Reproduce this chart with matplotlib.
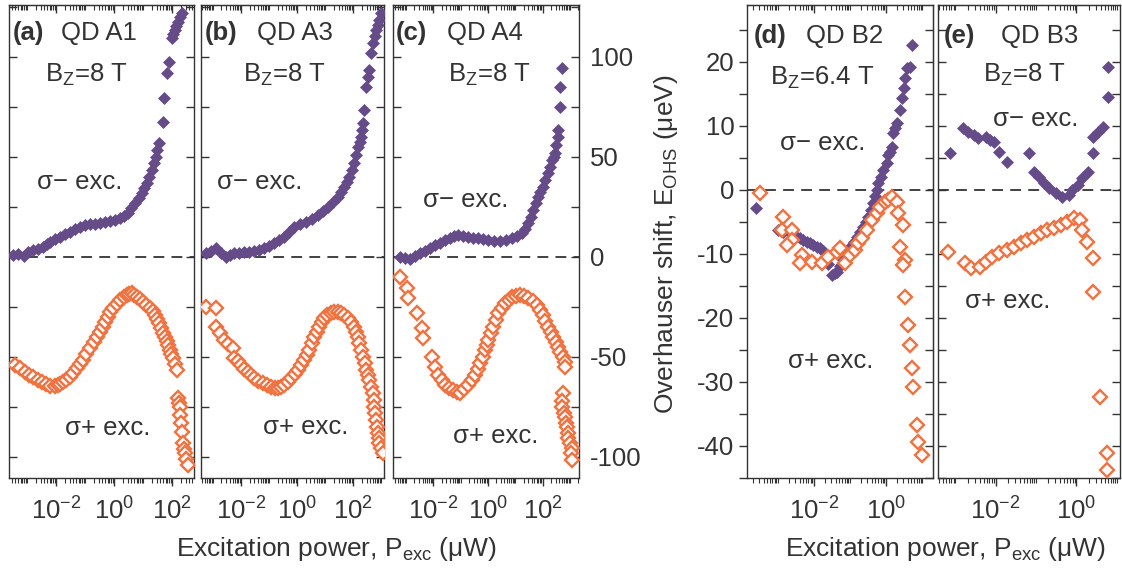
import numpy as np
import matplotlib
matplotlib.use('Agg')
import matplotlib.pyplot as plt
from matplotlib.ticker import FixedLocator, MultipleLocator, FuncFormatter, NullFormatter

plt.rcParams['font.family'] = ['Liberation Sans', 'DejaVu Sans']
plt.rcParams['mathtext.fontset'] = 'custom'
plt.rcParams['mathtext.rm'] = 'Liberation Sans'
plt.rcParams['mathtext.it'] = 'Liberation Sans:italic'
plt.rcParams['mathtext.bf'] = 'Liberation Sans:bold'
plt.rcParams['axes.unicode_minus'] = False

# data: log10(P_exc / uW) and E_OHS (ueV)
a_minus_logp = [-3.48, -3.3, -3.1, -2.95, -2.79, -2.62, -2.45, -2.32, -2.2, -2.03, -1.86, -1.68,
                -1.5, -1.33, -1.17, -1.0, -0.83, -0.65, -0.48, -0.3, -0.14, 0.03, 0.2, 0.35,
                0.48, 0.6, 0.72, 0.85, 0.97, 1.05, 1.13, 1.22, 1.3, 1.38, 1.45, 1.5, 1.55,
                1.69, 1.72, 1.83, 1.9, 2.0, 2.05, 2.1, 2.15, 2.2, 2.27, 2.34]
a_minus_e = [1, 1.5, 0.5, 2.5, 3.5, 4, 5, 6.5, 7.5, 9, 10, 11.5,
             12.5, 14, 15, 16, 16.5, 16.5, 17, 17.5, 18, 18.5, 19.5, 20.5,
             22, 24.5, 27, 29.5, 32, 34.5, 37, 40, 43.5, 47, 50, 53.5, 57,
             67.5, 79.5, 92, 97.5, 109.5, 111.5, 113.5, 115.5, 117.5, 120, 122]
a_plus_logp = [-3.41, -3.25, -3.07, -2.93, -2.79, -2.63, -2.48, -2.33, -2.2, -2.05, -1.93, -1.85,
               -1.76, -1.64, -1.52, -1.4, -1.28, -1.17, -1.07, -0.95, -0.83, -0.7, -0.59, -0.48,
               -0.38, -0.3, -0.21, -0.12, -0.03, 0.1, 0.21, 0.33, 0.45, 0.53, 0.62, 0.7,
               0.79, 0.9, 1.0, 1.12, 1.24, 1.33, 1.41, 1.48, 1.55, 1.62, 1.69, 1.76,
               1.83, 1.88, 1.93, 1.98, 2.03, 2.1, 2.17, 2.2, 2.25, 2.28, 2.28, 2.3,
               2.34, 2.38, 2.42, 2.45, 2.5, 2.55]
a_plus_e = [-54, -55.5, -57.5, -59, -60, -61.5, -62.5, -63.5, -64.5, -64.5, -64, -63.5,
            -62.5, -61.5, -60, -58, -55.5, -53.5, -51.5, -48.5, -45.5, -42.5, -40, -37.5,
            -35, -32.5, -30, -27.5, -25.5, -23.5, -21.5, -20, -19, -18.5, -18, -19,
            -20, -21, -22.5, -24, -25.5, -27, -29, -31, -33, -35.5, -38, -40,
            -42, -44, -46.5, -48.5, -50.5, -53.5, -56.5, -70.5, -73, -75, -79, -83,
            -87.5, -93, -96, -98, -101, -104]

b_minus_logp = [-3.25, -3.07, -2.89, -2.72, -2.54, -2.4, -2.25, -2.07, -1.89, -1.72, -1.54, -1.36,
                -1.18, -1.0, -0.82, -0.64, -0.46, -0.28, -0.11, 0.1, 0.32, 0.53, 0.75, 0.93,
                1.1, 1.28, 1.46, 1.57, 1.68, 1.77, 1.86, 1.95, 2.04, 2.11, 2.18, 2.24,
                2.29, 2.33, 2.36, 2.39, 2.46, 2.52, 2.57, 2.64, 2.71, 2.77, 2.82, 2.88,
                2.93, 3.0]
b_minus_e = [2, 3, 4.5, 2, 0, 1, 2, 2, 2.5, 2.5, 3, 3.5,
             4.5, 5.5, 7, 8.5, 10, 12.5, 15, 16.5, 17.5, 19, 21, 23,
             25, 27.5, 30, 32.5, 35, 37.5, 40, 43.5, 47, 51, 55, 57.5,
             60, 63.5, 67, 73.5, 85, 90, 93.5, 102, 107, 110.5, 113.5, 116,
             118.5, 122]
b_plus_logp = [-3.25, -2.89, -2.89, -2.75, -2.61, -2.45, -2.29, -2.25, -2.12, -2.0, -1.88, -1.75,
               -1.65, -1.54, -1.38, -1.21, -1.07, -0.93, -0.8, -0.68, -0.57, -0.46, -0.33, -0.21,
               -0.08, 0.04, 0.15, 0.25, 0.34, 0.43, 0.52, 0.61, 0.7, 0.79, 0.88, 0.96,
               1.08, 1.21, 1.33, 1.46, 1.57, 1.68, 1.8, 1.93, 2.02, 2.11, 2.16, 2.21,
               2.29, 2.36, 2.41, 2.46, 2.52, 2.57, 2.64, 2.71, 2.73, 2.75, 2.79, 2.82,
               2.85, 2.89, 2.91, 2.93, 3.0, 3.07]
b_plus_e = [-25, -25.5, -35, -38, -41.5, -43.5, -45.5, -50.5, -52, -54, -56, -57.5,
            -59, -60.5, -62, -63, -64, -65, -65.5, -65.5, -65, -64, -62.5, -60.5,
            -58.5, -56.5, -54, -51.5, -49, -46.5, -43, -40, -37.5, -35, -32.5, -30.5,
            -29, -28, -27.5, -27.5, -28, -29, -30.5, -32.5, -35, -37.5, -40, -43,
            -46.5, -50, -53, -56.5, -59, -61.5, -65, -68, -71.5, -75, -78, -81.5,
            -85, -88, -90.5, -93, -95.5, -98]

c_minus_logp = [-3.22, -3.04, -2.86, -2.67, -2.49, -2.3, -2.12, -1.94, -1.76, -1.57, -1.39, -1.25,
                -1.1, -0.92, -0.73, -0.55, -0.37, -0.18, 0.0, 0.22, 0.44, 0.66, 0.88, 1.07,
                1.25, 1.36, 1.47, 1.56, 1.65, 1.74, 1.83, 1.92, 2.01, 2.1, 2.2, 2.27,
                2.34, 2.4, 2.45, 2.5, 2.56, 2.56, 2.64, 2.64, 2.71]
c_minus_e = [0, -0.5, -1, 0.5, 2, 3, 4.5, 6, 7, 8.5, 9.5, 10.5,
             11, 10.5, 10, 9.5, 9.5, 9, 8.5, 8, 8, 8.5, 9.5, 10.5,
             12, 14, 17, 20, 23.5, 27, 30, 32.5, 35, 38.5, 42, 45,
             48.5, 50, 52, 56, 60, 63.5, 75, 85, 94.5]
c_plus_logp = [-3.22, -2.97, -2.93, -2.6, -2.42, -2.38, -2.05, -1.94, -1.83, -1.7, -1.58, -1.43,
               -1.28, -1.15, -1.03, -0.88, -0.73, -0.6, -0.48, -0.38, -0.29, -0.2, -0.11, -0.05,
               0.0, 0.09, 0.18, 0.28, 0.37, 0.5, 0.62, 0.75, 0.88, 1.02, 1.17, 1.32,
               1.47, 1.63, 1.79, 1.9, 2.01, 2.1, 2.2, 2.29, 2.38, 2.47, 2.56, 2.65,
               2.75, 2.8, 2.82, 2.75, 2.71, 2.71, 2.78, 2.82, 2.86, 2.89, 2.91, 2.93,
               3.0, 3.08, 3.05, 3.08]
c_plus_e = [-10, -15.5, -20.5, -28, -35.5, -40.5, -50, -55, -59, -61.5, -64, -65.5,
            -66.5, -67.5, -68, -66, -64, -61.5, -59, -56, -53, -50, -46.5, -44,
            -41.5, -38, -35, -31.5, -28, -25.5, -23, -21.5, -20, -19.5, -19, -19.5,
            -20.5, -22, -24, -26.5, -29, -32, -35, -37.5, -40, -42.5, -45, -47.5,
            -50, -52.5, -55, -68, -72, -75, -78, -80, -83, -85, -88, -90.5,
            -93, -95.5, -98, -101.5]

d_minus_logp = [-3.61, -3.0, -2.85, -2.67, -2.5, -2.39, -2.3, -2.19, -2.1, -2.03, -1.93, -1.83,
                -1.76, -1.69, -1.6, -1.5, -1.42, -1.36, -1.28, -1.19, -1.1, -1.0, -0.9, -0.81,
                -0.72, -0.64, -0.57, -0.5, -0.43, -0.36, -0.3, -0.25, -0.22, -0.15, -0.08, 0.03,
                0.06, 0.12, 0.17, 0.19, 0.25, 0.31, 0.39, 0.44, 0.5, 0.53, 0.58, 0.67, 0.72]
d_minus_e = [-2.8, -6.25, -6.5, -6.7, -7.2, -7.5, -7.8, -8.1, -8.3, -8.6, -8.9, -9.1,
             -9.5, -9.9, -11.5, -13.3, -13, -12.8, -11.9, -10.9, -9.9, -8.9, -8.1, -7.3,
             -6.5, -5.8, -5, -4.2, -3.2, -2.1, -1, 0, 1.1, 2.1, 3.1, 4.2,
             5.5, 6, 6.7, 8.9, 9.7, 10.5, 12.5, 14.4, 16, 17.5, 19, 19.2, 22.7]
d_plus_logp = [-3.5, -2.86, -2.89, -2.61, -2.61, -2.75, -2.33, -2.39, -2.06, -1.78, -1.61, -1.36,
               -1.28, -1.14, -1.0, -0.86, -0.78, -0.67, -0.53, -0.39, -0.25, -0.17, -0.03, 0.06,
               0.17, 0.31, 0.33, 0.47, 0.39, 0.53, 0.47, 0.53, 0.61, 0.67, 0.72, 0.75,
               0.86, 0.89, 1.0]
d_plus_e = [-0.4, -4.2, -6.25, -6.25, -7.8, -8.6, -10.2, -11.4, -11.2, -11.4, -10.5, -9.7,
            -9.1, -11.4, -10.2, -9.4, -8.3, -7.5, -6.25, -4.7, -3.6, -2.6, -1.9, -1.6,
            -1.1, -1.9, -3.6, -5.5, -8.9, -10.9, -11.7, -16.7, -21.1, -24.2, -27.8, -30.8,
            -36.7, -39.4, -41.4]

e_minus_logp = [-3.13, -2.8, -2.68, -2.55, -2.43, -2.25, -2.13, -2.05, -1.93, -1.73, -1.18, -1.05,
                -0.93, -0.8, -0.68, -0.5, -0.35, -0.18, -0.1, 0.03, 0.15, 0.28, 0.4, 0.4,
                0.53, 0.65, 0.78, 0.78]
e_minus_e = [5.8, 9.7, 9.1, 8.6, 8.1, 8.3, 7.8, 7.5, 5.9, 4.4, 5.8, 2.8,
             2.0, 1.1, 0.3, -0.5, -1.1, -0.8, 0, 0.8, 1.9, 2.8, 5.8, 8.3,
             9.1, 9.9, 14.5, 19.2]
e_plus_logp = [-3.18, -2.75, -2.6, -2.38, -2.23, -2.1, -1.93, -1.73, -1.55, -1.38, -1.23, -1.05,
               -0.88, -0.73, -0.55, -0.38, -0.23, -0.05, 0.08, 0.15, 0.25, 0.4, 0.4, 0.58,
               0.75, 0.75]
e_plus_e = [-9.7, -11.4, -12.2, -12.0, -11.2, -10.5, -9.8, -9.4, -8.9, -8.3, -7.8, -7.3,
            -6.7, -6.25, -5.9, -5.5, -5.0, -4.4, -4.7, -6.25, -8.1, -10.6, -16, -32.3,
            -41.1, -43.8]

purple = '#654b88'
orange = '#f07240'
ink = '#333333'
fs = 18.5

W, H = 1122, 571
fig = plt.figure(figsize=(W / 100, H / 100), dpi=100)


def px_axes(l, r, t, b):
    return fig.add_axes([l / W, 1 - b / H, (r - l) / W, (b - t) / H])


def ftext(x, y, s, **kw):
    kw.setdefault('va', 'center')
    kw.setdefault('fontsize', fs)
    kw.setdefault('color', ink)
    fig.text(x / W, 1 - y / H, s, **kw)


def log_ticks(lo, hi):
    # labelled ticks at even decades, the rest as minor ticks
    major, minor = [], []
    for k in range(int(np.floor(lo)), int(np.ceil(hi)) + 1):
        for m in range(1, 10):
            v = m * 10.0 ** k
            if not (lo <= np.log10(v) <= hi):
                continue
            if m == 1 and k % 2 == 0:
                major.append(v)
            else:
                minor.append(v)
    return major, minor


def xfmt(v, pos):
    return '$10^{%d}$' % int(round(np.log10(v)))


def panel(box, logp_lim, ylim, ystep, ylab, minus, plus, side='none'):
    ax = px_axes(*box)
    ax.plot(10 ** np.array(minus[0]), minus[1], 'D', ms=6.6, color=purple, mec=purple, mew=0.5,
            linestyle='none', zorder=3)
    ax.plot(10 ** np.array(plus[0]), plus[1], 'D', ms=6.8, mfc='#f9f9f9', mec=orange, mew=1.7,
            linestyle='none', zorder=4)
    ax.axhline(0, color=ink, lw=1.3, dashes=(6, 4), zorder=2)
    ax.set_xscale('log')
    ax.set_xlim(10 ** logp_lim[0], 10 ** logp_lim[1])
    ax.set_ylim(*ylim)
    for sp in ax.spines.values():
        sp.set_color(ink)
        sp.set_linewidth(1.0)

    major, minor = log_ticks(*logp_lim)
    ax.xaxis.set_major_locator(FixedLocator(major))
    ax.xaxis.set_minor_locator(FixedLocator(minor))
    ax.xaxis.set_major_formatter(FuncFormatter(xfmt))
    ax.xaxis.set_minor_formatter(NullFormatter())
    ax.tick_params(axis='x', which='major', direction='out', length=6, width=1.0, color=ink,
                   labelsize=fs, labelcolor=ink, pad=8, top=False)
    ax.tick_params(axis='x', which='minor', direction='out', length=3.5, width=0.8, color=ink,
                   top=False)
    top = ax.secondary_xaxis('top')
    top.xaxis.set_major_locator(FixedLocator(major))
    top.xaxis.set_minor_locator(FixedLocator(minor))
    top.xaxis.set_major_formatter(NullFormatter())
    top.xaxis.set_minor_formatter(NullFormatter())
    top.tick_params(axis='x', which='major', direction='in', length=6, width=1.0, color=ink,
                    labeltop=False)
    top.tick_params(axis='x', which='minor', direction='in', length=3.5, width=0.8, color=ink)
    top.spines['top'].set_color(ink)

    ax.yaxis.set_major_locator(MultipleLocator(ystep))
    ax.yaxis.set_major_formatter(FuncFormatter(
        lambda v, p: '%d' % round(v) if abs(round(v) % ylab) < 1e-6 else ''))
    if side == 'left':
        ax.tick_params(axis='y', direction='out', length=6, width=1.0, color=ink, left=True,
                       right=False, labelleft=True, labelsize=fs, labelcolor=ink, pad=3)
        rt = ax.secondary_yaxis('right')
        rt.yaxis.set_major_locator(MultipleLocator(ystep))
        rt.yaxis.set_major_formatter(NullFormatter())
        rt.tick_params(axis='y', direction='in', length=6, width=1.0, color=ink,
                       labelright=False)
    elif side == 'right':
        ax.tick_params(axis='y', direction='in', length=6, width=1.0, color=ink, left=True,
                       right=True, labelleft=False, labelright=True, labelsize=fs,
                       labelcolor=ink, pad=8)
    else:
        ax.tick_params(axis='y', direction='in', length=6, width=1.0, color=ink, left=True,
                       right=True, labelleft=False, labelright=False)
    return ax


ylim_a = (-110.5, 126)
ylim_d = (-45, 28.9)
panel((9, 194, 5, 478), (-3.62, 2.76), ylim_a, 25, 50,
      (a_minus_logp, a_minus_e), (a_plus_logp, a_plus_e))
panel((201, 384, 5, 478), (-3.43, 3.1), ylim_a, 25, 50,
      (b_minus_logp, b_minus_e), (b_plus_logp, b_plus_e))
panel((393, 579, 5, 478), (-3.48, 3.33), ylim_a, 25, 50,
      (c_minus_logp, c_minus_e), (c_plus_logp, c_plus_e), side='right')
panel((747, 933, 5, 478), (-3.86, 1.3), ylim_d, 5, 10,
      (d_minus_logp, d_minus_e), (d_plus_logp, d_plus_e), side='left')
panel((938, 1120, 5, 478), (-3.43, 1.08), ylim_d, 5, 10,
      (e_minus_logp, e_minus_e), (e_plus_logp, e_plus_e))

# panel annotations
ftext(13, 33, '(a)', fontweight='bold')
ftext(61, 33, 'QD A1')
ftext(45, 75, 'B$_{\\rm Z}$=8 T')
ftext(37, 182, 'σ− exc.')
ftext(65, 428, 'σ+ exc.')

ftext(205, 33, '(b)', fontweight='bold')
ftext(257, 33, 'QD A3')
ftext(243, 75, 'B$_{\\rm Z}$=8 T')
ftext(217, 182, 'σ− exc.')
ftext(263, 427, 'σ+ exc.')

ftext(396, 33, '(c)', fontweight='bold')
ftext(447, 33, 'QD A4')
ftext(448, 75, 'B$_{\\rm Z}$=8 T')
ftext(423, 200, 'σ− exc.')
ftext(453, 436, 'σ+ exc.')

ftext(754, 36, '(d)', fontweight='bold')
ftext(806, 36, 'QD B2')
ftext(770, 78, 'B$_{\\rm Z}$=6.4 T')
ftext(780, 143, 'σ− exc.')
ftext(788, 361, 'σ+ exc.')

ftext(944, 36, '(e)', fontweight='bold')
ftext(1001, 36, 'QD B3')
ftext(983, 75, 'B$_{\\rm Z}$=8 T')
ftext(993, 119, 'σ− exc.')
ftext(965, 301, 'σ+ exc.')

ftext(336, 549, 'Excitation power, P$_{\\rm exc}$ (μW)', ha='center', fontsize=19)
ftext(945, 549, 'Excitation power, P$_{\\rm exc}$ (μW)', ha='center', fontsize=19)
ftext(666, 244, 'Overhauser shift, E$_{\\rm OHS}$ (μeV)', ha='center', rotation=90, fontsize=19)

fig.savefig('out.png', dpi=100)
